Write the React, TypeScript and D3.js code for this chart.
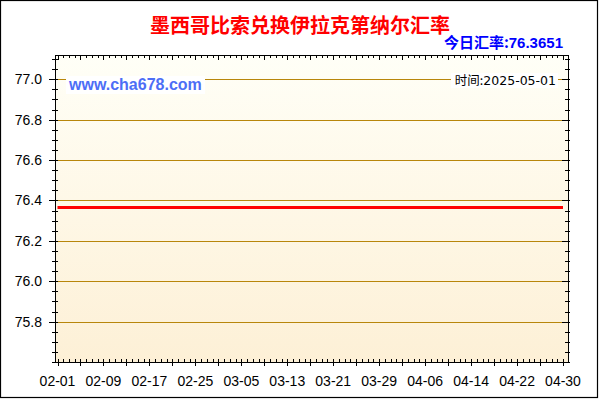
import React from 'react';
import * as d3 from 'd3';

const title = '墨西哥比索兑换伊拉克第纳尔汇率';
const currentRateLabel = '今日汇率:';
const currentRate = '76.3651';
const updateLabel = '时间:';
const updateDate = '2025-05-01';
const siteLabel = 'www.cha678.com';
const startDate = '2025-02-01';
const endDate = '2025-04-30';

// daily rates 02-01 .. 04-30 (89 days)
const rates: number[] = [
  76.3651, 76.3651, 76.3651, 76.3651, 76.3651, 76.3651, 76.3651, 76.3651, 76.3651, 76.3651,
  76.3651, 76.3651, 76.3651, 76.3651, 76.3651, 76.3651, 76.3651, 76.3651, 76.3651, 76.3651,
  76.3651, 76.3651, 76.3651, 76.3651, 76.3651, 76.3651, 76.3651, 76.3651, 76.3651, 76.3651,
  76.3651, 76.3651, 76.3651, 76.3651, 76.3651, 76.3651, 76.3651, 76.3651, 76.3651, 76.3651,
  76.3651, 76.3651, 76.3651, 76.3651, 76.3651, 76.3651, 76.3651, 76.3651, 76.3651, 76.3651,
  76.3651, 76.3651, 76.3651, 76.3651, 76.3651, 76.3651, 76.3651, 76.3651, 76.3651, 76.3651,
  76.3651, 76.3651, 76.3651, 76.3651, 76.3651, 76.3651, 76.3651, 76.3651, 76.3651, 76.3651,
  76.3651, 76.3651, 76.3651, 76.3651, 76.3651, 76.3651, 76.3651, 76.3651, 76.3651, 76.3651,
  76.3651, 76.3651, 76.3651, 76.3651, 76.3651, 76.3651, 76.3651, 76.3651, 76.3651,
];

const yMajorTicks = [75.8, 76.0, 76.2, 76.4, 76.6, 76.8, 77.0];
const yDomain: [number, number] = [75.6, 77.12];
const yMinorStep = 0.05;
const xMajorEvery = 4;
const xLabelEvery = 8;

const W = 600;
const H = 400;
const plot = { left: 55, right: 568, top: 55, bottom: 362 };

export default function App() {
  const parse = d3.utcParse('%Y-%m-%d');
  const start = parse(startDate)!;
  const end = parse(endDate)!;
  const days = d3.utcDay.range(start, d3.utcDay.offset(end, 1));
  const fmt = d3.utcFormat('%m-%d');

  const x = d3.scaleUtc().domain([start, end]).range([57.5, 563]);
  const y = d3.scaleLinear().domain(yDomain).range([plot.bottom, plot.top]);

  const yMinor = d3.range(Math.ceil(yDomain[0] / yMinorStep), Math.floor(yDomain[1] / yMinorStep) + 1)
    .map((k) => k * yMinorStep);

  const line = d3
    .line<number>()
    .x((_, i) => x(days[i]))
    .y((d) => y(d));

  const axisFont = '"Liberation Sans", Arial, sans-serif';
  const cjkFont = '"Noto Sans CJK SC", sans-serif';
  const tickColor = '#000';
  const gridColor = '#b8860b';

  return (
    <svg
      width={W}
      height={H}
      style={{ position: 'absolute', left: 0, top: 0, background: '#fff' }}
    >
      <defs>
        <linearGradient id="bg" x1="0" y1="0" x2="0" y2="1">
          <stop offset="0%" stopColor="#fffff7" />
          <stop offset="100%" stopColor="#fdf0d6" />
        </linearGradient>
      </defs>
      <rect x={0} y={0} width={W} height={H} fill="#fff" />
      <rect x={0.5} y={0.5} width={597} height={397} fill="none" stroke="#000" strokeWidth={1.2} />

      <text
        x={300}
        y={33}
        textAnchor="middle"
        fill="#ff0000"
        fontFamily={cjkFont}
        fontWeight={700}
        fontSize={20}
      >
        {title}
      </text>
      <text
        x={563}
        y={48}
        textAnchor="end"
        fill="#0000ff"
        fontWeight={700}
        fontSize={15}
        fontFamily={cjkFont}
      >
        {currentRateLabel}
        <tspan fontFamily={axisFont}>{currentRate}</tspan>
      </text>

      <rect
        x={plot.left}
        y={plot.top}
        width={plot.right - plot.left}
        height={plot.bottom - plot.top}
        fill="url(#bg)"
      />

      {yMajorTicks.map((t) => (
        <line
          key={'g' + t}
          x1={plot.left}
          x2={plot.right}
          y1={Math.round(y(t)) + 0.5}
          y2={Math.round(y(t)) + 0.5}
          stroke={gridColor}
          strokeWidth={1}
        />
      ))}

      {/* y minor ticks */}
      {yMinor.map((t) => (
        <g key={'ym' + t}>
          <line x1={52} x2={58} y1={Math.round(y(t)) + 0.5} y2={Math.round(y(t)) + 0.5} stroke="#000" />
          <line x1={565} x2={570} y1={Math.round(y(t)) + 0.5} y2={Math.round(y(t)) + 0.5} stroke="#000" />
        </g>
      ))}
      {yMajorTicks.map((t) => (
        <g key={'yM' + t}>
          <line x1={49} x2={plot.left} y1={Math.round(y(t)) + 0.5} y2={Math.round(y(t)) + 0.5} stroke="#000" />
          <line x1={562} x2={570} y1={Math.round(y(t)) + 0.5} y2={Math.round(y(t)) + 0.5} stroke="#000" />
          <text
            x={42}
            y={y(t) + 5}
            textAnchor="end"
            fontFamily={axisFont}
            fontSize={14}
            fill={tickColor}
          >
            {t.toFixed(1)}
          </text>
        </g>
      ))}

      {/* x ticks */}
      {days.map((d, i) => {
        const xp = Math.round(x(d)) + 0.5;
        const major = i % xMajorEvery === 0;
        return (
          <g key={'x' + i}>
            <line x1={xp} x2={xp} y1={plot.top} y2={plot.top + (major ? 5 : 3)} stroke="#000" />
            <line x1={xp} x2={xp} y1={plot.bottom - 3} y2={plot.bottom + (major ? 4 : 0)} stroke="#000" />
            {i % xLabelEvery === 0 && (
              <text
                x={x(d)}
                y={386}
                textAnchor="middle"
                fontFamily={axisFont}
                fontSize={14}
                fill={tickColor}
              >
                {fmt(d)}
              </text>
            )}
          </g>
        );
      })}

      <rect
        x={plot.left + 0.5}
        y={plot.top + 0.5}
        width={plot.right - plot.left}
        height={plot.bottom - plot.top}
        fill="none"
        stroke="#000"
        strokeWidth={1}
      />

      <path d={line(rates) ?? ''} fill="none" stroke="#ff0000" strokeWidth={3} />

      <rect x={66} y={76} width={139} height={18} fill="#fff" />
      <text x={69} y={90} fill="#4d6ef6" fontWeight={700} fontSize={16} fontFamily={axisFont}>
        {siteLabel}
      </text>

      <rect x={451} y={73} width={107} height={15} fill="#fff" />
      <text x={556} y={85} textAnchor="end" fill="#000" fontSize={12.5} fontFamily={cjkFont}>
        {updateLabel}
        <tspan fontFamily='"DejaVu Sans", sans-serif'>{updateDate}</tspan>
      </text>
    </svg>
  );
}
